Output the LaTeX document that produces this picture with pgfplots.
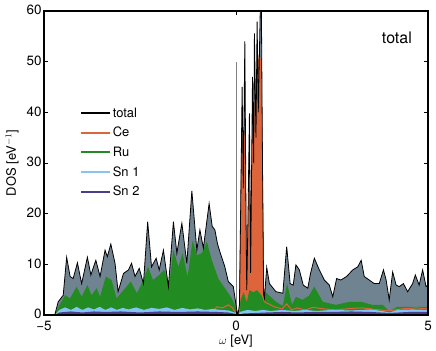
\documentclass[border=0pt]{standalone}
\usepackage{fontspec}
\setmainfont{TeX Gyre Heros}
\usepackage{pgfplots}
\usepackage{pgfplotstable}
\pgfplotsset{compat=1.18}

\definecolor{totfill}{RGB}{112,131,145}
\definecolor{rucol}{RGB}{34,139,34}
\definecolor{cecol}{RGB}{222,100,60}
\definecolor{snone}{RGB}{135,195,245}
\definecolor{sntwo}{RGB}{72,61,139}

% total DOS
\pgfplotstableread{
w dos
-5.00 0
-4.72 0
-4.63 2.6
-4.50 3.9
-4.41 11.4
-4.32 7.6
-4.24 7.2
-4.13 10.3
-4.02 6.2
-3.87 11.4
-3.78 7.9
-3.65 10.8
-3.54 7.6
-3.41 12.8
-3.35 11.5
-3.26 14.0
-3.15 10.2
-3.07 4.6
-2.93 8.2
-2.80 8.9
-2.72 10.2
-2.63 7.6
-2.52 9.2
-2.41 6.2
-2.30 18.4
-2.20 9.5
-2.08 11.2
-2.00 8.9
-1.89 12.8
-1.76 5.6
-1.63 18.4
-1.54 12.2
-1.41 18.1
-1.28 10.2
-1.15 24.5
-1.02 12.8
-0.94 16.8
-0.85 13.2
-0.70 22.0
-0.62 17.5
-0.55 16.8
-0.48 14.0
-0.42 12.5
-0.29 9.5
-0.20 6.6
-0.07 5.6
0.02 1.0
0.05 0
0.09 2.0
0.12 20
0.16 45
0.19 25
0.23 54
0.26 20
0.28 4.9
0.31 18
0.35 39.8
0.38 8.3
0.43 47
0.46 30
0.48 55.6
0.52 35
0.55 57.9
0.58 40
0.63 59.5
0.66 62
0.69 30
0.72 4.0
0.74 3.3
0.80 9.4
0.87 6.2
1.04 4.6
1.22 4.3
1.32 13.5
1.41 6.2
1.49 5.9
1.56 9.9
1.65 8.9
1.75 5.9
1.87 5.3
1.94 8.2
2.04 11.2
2.17 8.9
2.30 6.9
2.43 5.9
2.52 3.6
2.62 7.2
2.73 6.9
2.88 7.6
3.04 8.9
3.17 9.5
3.26 10.8
3.34 7.6
3.47 6.9
3.60 6.2
3.73 6.2
3.84 8.9
3.91 6.9
3.99 3.0
4.08 8.5
4.17 5.9
4.25 5.6
4.36 6.2
4.47 4.6
4.60 6.2
4.67 7.9
4.77 5.9
4.86 8.9
4.95 5.6
5.00 5.9
}\totaltab

\pgfplotstableread{
w dos
-5.00 0
-4.72 0
-4.63 1.5
-4.45 3.9
-4.32 3.3
-4.15 5.6
-4.02 3.6
-3.87 5.9
-3.76 3.9
-3.63 5.3
-3.54 3.6
-3.39 7.6
-3.24 6.9
-3.11 3.3
-2.93 4.9
-2.74 6.6
-2.58 4.3
-2.41 6.9
-2.29 9.5
-2.16 6.9
-2.00 7.9
-1.87 8.9
-1.74 5.9
-1.63 12.8
-1.50 9.5
-1.39 12.2
-1.26 7.6
-1.13 14.7
-1.02 11.8
-0.89 12.2
-0.76 14.5
-0.63 10.8
-0.46 7.2
-0.29 5.3
-0.11 3.3
0.02 1.0
0.05 0
0.09 1.5
0.12 3.0
0.20 4.5
0.28 2.5
0.35 4.9
0.45 4.5
0.55 4.9
0.65 4.0
0.72 3.0
0.74 4.6
0.80 4.3
1.04 2.6
1.22 1.8
1.33 6.2
1.46 2.0
1.56 3.6
1.73 3.0
1.90 3.8
2.04 5.6
2.26 2.6
2.60 2.0
2.95 2.6
3.26 2.6
3.55 2.0
3.82 2.0
3.99 0.7
4.20 1.6
4.67 1.6
5.00 1.6
}\rutab

\pgfplotstableread{
w dos
-5.00 0
-4.72 0
-3.40 0.3
-1.00 0.3
-0.60 0.8
-0.50 1.6
-0.35 1.4
-0.20 2.0
-0.10 1.5
0.00 0.3
0.05 0
0.09 1.0
0.12 15
0.15 36
0.19 22
0.23 36
0.26 12
0.28 4.0
0.31 14
0.35 30
0.38 7.0
0.43 35
0.46 25
0.50 42
0.55 48
0.60 51
0.65 50
0.69 25
0.72 3.0
0.76 2.5
0.85 2.2
1.00 1.6
1.20 1.2
1.32 2.2
1.45 1.0
1.60 1.4
1.80 1.0
2.00 1.5
2.30 1.2
2.60 1.0
3.00 1.3
3.30 1.4
3.60 1.1
4.00 0.8
4.30 1.2
4.70 1.4
5.00 1.2
}\cetab

\pgfplotstableread{
w dos
-5.00 0
-4.72 0
-4.60 1.0
-4.45 1.5
-4.30 1.0
-4.15 1.6
-4.00 1.0
-3.85 1.5
-3.70 1.1
-3.55 1.6
-3.40 1.0
-3.25 1.5
-3.10 1.0
-2.95 1.4
-2.80 1.1
-2.60 1.5
-2.40 1.0
-2.20 1.4
-2.00 1.2
-1.80 1.5
-1.60 1.0
-1.40 1.4
-1.20 1.1
-1.00 1.3
-0.80 1.0
-0.60 1.2
-0.40 1.0
-0.20 0.9
0.00 0.4
0.05 0
0.10 0.6
0.30 1.0
0.50 0.8
0.70 1.0
0.90 0.8
1.20 1.0
1.50 0.8
1.80 1.0
2.10 0.8
2.50 1.0
3.00 0.9
3.50 1.1
3.80 0.8
4.00 0.5
4.20 1.0
4.60 1.1
5.00 1.0
}\snonetab

\pgfplotstableread{
w dos
-5.00 0
-4.72 0
-4.60 0.5
-4.30 0.7
-4.00 0.5
-3.70 0.7
-3.40 0.6
-3.00 0.7
-2.50 0.5
-2.00 0.7
-1.50 0.6
-1.00 0.7
-0.50 0.6
-0.20 0.5
0.00 0.2
0.05 0
0.20 0.3
0.50 0.4
0.80 0.5
1.20 0.6
1.60 0.5
2.00 0.6
2.50 0.6
3.00 0.7
3.50 0.6
4.00 0.4
4.50 0.6
5.00 0.6
}\sntwotab

\begin{document}
\begin{tikzpicture}
\begin{axis}[
  name=ax,
  scale only axis,
  width=384bp, height=304bp,
  xmin=-5, xmax=5, ymin=0, ymax=60,
  xtick={-5,0,5}, xticklabels={−5,0,5},
  ytick={0,10,...,60},
  tick align=inside,
  major tick length=4bp,
  axis line style={line width=1.6bp},
  every tick/.style={black, line width=0.9bp},
  tick label style={font=\fontsize{13.5}{15}\selectfont},
  xticklabel style={yshift=-2.5bp},
  yticklabel style={xshift=1bp, yshift=1bp},
  /pgf/number format/assume math mode=true,
  xlabel={$\omega$ [eV]},
  ylabel={DOS [eV$^{-1}$]},
  label style={font=\fontsize{13}{15}\selectfont},
  xlabel style={at={(axis description cs:0.5,-0.087)}, anchor=center},
  ylabel style={at={(axis description cs:-0.083,0.5)}, anchor=center},
  axis on top,
  legend style={at={(axis description cs:0.085,0.695)}, anchor=north west,
    draw=none, fill=none, font=\fontsize{13}{15}\selectfont, row sep=4.5bp},
  legend cell align=left,
  legend image code/.code={\draw[#1, line width=2bp] (0bp,0bp) -- (29bp,0bp);},
]
\addplot[draw=none, fill=totfill, forget plot] table[x=w, y=dos] {\totaltab} \closedcycle;
\addplot[draw=none, fill=cecol, forget plot] table[x=w, y=dos] {\cetab} \closedcycle;
\addplot[draw=none, fill=rucol, forget plot] table[x=w, y=dos] {\rutab} \closedcycle;
\addplot[cecol, line width=1bp, forget plot] table[x=w, y=dos] {\cetab};
\addplot[draw=none, fill=snone, forget plot] table[x=w, y=dos] {\snonetab} \closedcycle;
\addplot[draw=none, fill=sntwo, forget plot] table[x=w, y=dos] {\sntwotab} \closedcycle;
\addplot[gray, line width=0.6bp, forget plot] coordinates {(0,0) (0,50)};
\addplot[black, line width=0.8bp, forget plot] table[x=w, y=dos] {\totaltab};

\addlegendimage{black}\addlegendentry{total}
\addlegendimage{cecol}\addlegendentry{Ce}
\addlegendimage{rucol}\addlegendentry{Ru}
\addlegendimage{snone}\addlegendentry{Sn 1}
\addlegendimage{sntwo}\addlegendentry{Sn 2}

\node[font=\fontsize{16}{19}\selectfont] at (axis description cs:0.919,0.911) {total};
\end{axis}
\pgfresetboundingbox
\path[use as bounding box] ([xshift=-44bp,yshift=-36bp]ax.south west) rectangle ([xshift=8bp,yshift=11bp]ax.north east);
\end{tikzpicture}
\end{document}
